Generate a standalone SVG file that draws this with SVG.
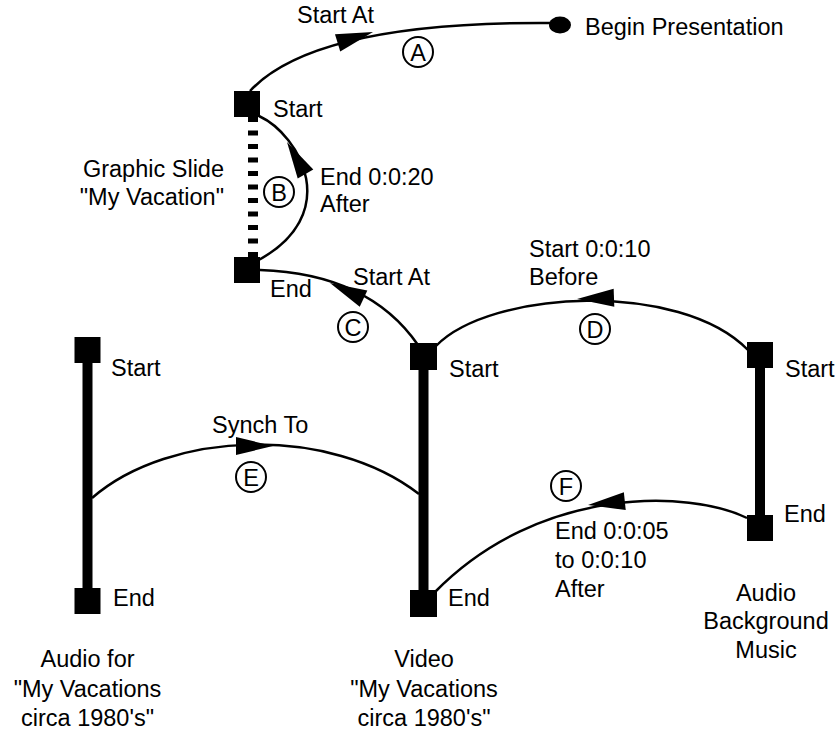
<svg xmlns="http://www.w3.org/2000/svg" width="837" height="731" viewBox="0 0 837 731">
<style>
text{font-family:"Liberation Sans",Arial,sans-serif;font-size:23.5px;fill:#000}
.mid{text-anchor:middle}
.end{text-anchor:end}
.sq{fill:#000}
.bar{stroke:#000;stroke-width:10;fill:none}
.dash{stroke:#000;stroke-width:10;fill:none;stroke-dasharray:5 8.5}
.curve{stroke:#000;stroke-width:2.5;fill:none}
.tag{fill:#fff;stroke:#000;stroke-width:2}
</style>
<defs>
<path id="ah" d="M0,0 L-37,-9 L-37,9 Z" fill="#000"/>
</defs>
<rect width="837" height="731" fill="#fff"/>

<g id="begin">
<ellipse cx="560" cy="25" rx="11" ry="8.5" fill="#000"/>
<text x="585" y="35">Begin Presentation</text>
</g>

<g id="graphic-slide">
<line class="dash" x1="253" y1="117" x2="253" y2="257"/>
<rect class="sq" x="234" y="91" width="26" height="26"/>
<rect class="sq" x="234" y="257" width="26" height="26"/>
<text x="273" y="117">Start</text>
<text x="270" y="297">End</text>
<text class="end" x="224" y="177">Graphic Slide</text>
<text class="end" x="224" y="205">"My Vacation"</text>
</g>

<g id="audio-for">
<line class="bar" x1="87.5" y1="350" x2="87.5" y2="600"/>
<rect class="sq" x="74.5" y="337" width="26" height="26"/>
<rect class="sq" x="74.5" y="588" width="26" height="26"/>
<text x="111" y="376">Start</text>
<text x="113" y="606">End</text>
<text class="mid" x="87.5" y="667">Audio for</text>
<text class="mid" x="87.5" y="697">"My Vacations</text>
<text class="mid" x="87.5" y="726">circa 1980's"</text>
</g>

<g id="video">
<line class="bar" x1="423.5" y1="356" x2="423.5" y2="603"/>
<rect class="sq" x="410" y="343" width="27" height="27"/>
<rect class="sq" x="410" y="590" width="27" height="27"/>
<text x="449" y="377">Start</text>
<text x="448" y="606">End</text>
<text class="mid" x="424" y="667">Video</text>
<text class="mid" x="424" y="697">"My Vacations</text>
<text class="mid" x="424" y="726">circa 1980's"</text>
</g>

<g id="audio-background">
<line class="bar" x1="760" y1="355" x2="760" y2="528"/>
<rect class="sq" x="747" y="342" width="26" height="26"/>
<rect class="sq" x="747" y="515" width="26" height="26"/>
<text x="785" y="377">Start</text>
<text x="784" y="522">End</text>
<text class="mid" x="766" y="601">Audio</text>
<text class="mid" x="766" y="629">Background</text>
<text class="mid" x="766" y="658">Music</text>
</g>

<g id="connectors">
<g id="conn-A">
<path class="curve" d="M250,91 C290,48 380,22 550,23"/>
<use href="#ah" transform="translate(373,32) rotate(-17)"/>
<text x="297" y="23">Start At</text>
<circle class="tag" cx="418" cy="52" r="15"/>
<text class="mid" x="418" y="60.5">A</text>
</g>
<g id="conn-B">
<path class="curve" d="M259,116 C300,135 345,215 255,262"/>
<use href="#ah" transform="translate(287,142) rotate(240)"/>
<circle class="tag" cx="279" cy="192" r="15"/>
<text class="mid" x="279" y="200.5">B</text>
<text x="320" y="185">End 0:0:20</text>
<text x="320" y="212">After</text>
</g>
<g id="conn-C">
<path class="curve" d="M260,270 C320,272 380,290 418,345"/>
<use href="#ah" transform="translate(330,283) rotate(205)"/>
<text x="353" y="285">Start At</text>
<circle class="tag" cx="353" cy="327" r="15"/>
<text class="mid" x="353" y="335.5">C</text>
</g>
<g id="conn-D">
<path class="curve" d="M436,346 C490,290 680,280 748,350"/>
<use href="#ah" transform="translate(577,299) rotate(178)"/>
<text x="529" y="257">Start 0:0:10</text>
<text x="529" y="285">Before</text>
<circle class="tag" cx="595" cy="329" r="15"/>
<text class="mid" x="595" y="337.5">D</text>
</g>
<g id="conn-E">
<path class="curve" d="M92,498 C170,430 330,425 419,494"/>
<use href="#ah" transform="translate(273,446) rotate(0)"/>
<text x="212" y="433">Synch To</text>
<circle class="tag" cx="251" cy="477" r="15"/>
<text class="mid" x="251" y="485.5">E</text>
</g>
<g id="conn-F">
<path class="curve" d="M747,518 C690,490 540,485 435,592"/>
<use href="#ah" transform="translate(588,505) rotate(174)"/>
<circle class="tag" cx="566" cy="486" r="15"/>
<text class="mid" x="566" y="494.5">F</text>
<text x="555" y="539">End 0:0:05</text>
<text x="555" y="568">to 0:0:10</text>
<text x="555" y="597">After</text>
</g>
</g>
</svg>
